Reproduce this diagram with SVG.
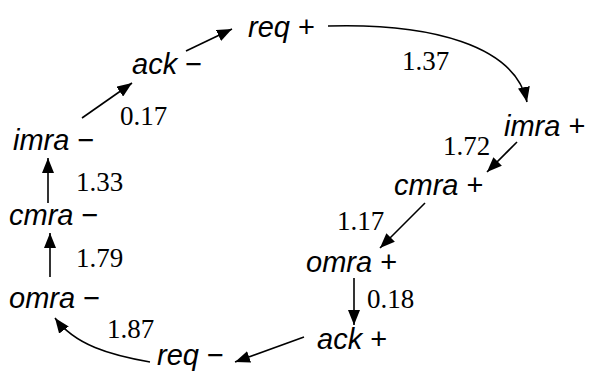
<svg xmlns="http://www.w3.org/2000/svg" width="590" height="372" viewBox="0 0 590 372">
  <style>
    .node { font-family: "Liberation Sans", Arial, sans-serif; font-size: 29px; fill: #000; }
    .node .v { font-style: italic; }
    .rate { font-family: "Liberation Serif", "Times New Roman", serif; font-size: 27px; fill: #000; }
    .edge { fill: none; stroke: #000; stroke-width: 1.6; marker-end: url(#head); }
  </style>
  <defs>
    <marker id="head" markerUnits="userSpaceOnUse" markerWidth="16" markerHeight="12" refX="15" refY="6" orient="auto">
      <path d="M0,0 L15,6 L0,12 z" fill="#000"/>
    </marker>
  </defs>
  <rect width="590" height="372" fill="#fff"/>

  <!-- signal transitions -->
  <g id="req-plus"><text class="node" x="248" y="37"><tspan class="v">req</tspan> +</text></g>
  <g id="imra-plus"><text class="node" x="504" y="136"><tspan class="v">imra</tspan> +</text></g>
  <g id="cmra-plus"><text class="node" x="394" y="195"><tspan class="v">cmra</tspan> +</text></g>
  <g id="omra-plus"><text class="node" x="306" y="272"><tspan class="v">omra</tspan> +</text></g>
  <g id="ack-plus"><text class="node" x="317" y="349"><tspan class="v">ack</tspan> +</text></g>
  <g id="req-minus"><text class="node" x="157" y="365"><tspan class="v">req</tspan> −</text></g>
  <g id="omra-minus"><text class="node" x="9" y="308"><tspan class="v">omra</tspan> −</text></g>
  <g id="cmra-minus"><text class="node" x="9" y="225"><tspan class="v">cmra</tspan> −</text></g>
  <g id="imra-minus"><text class="node" x="13" y="150"><tspan class="v">imra</tspan> −</text></g>
  <g id="ack-minus"><text class="node" x="132" y="74"><tspan class="v">ack</tspan> −</text></g>

  <!-- arcs with delays -->
  <g id="connectors">
    <path class="edge" d="M328,26 C430,23 515,45 527,102"/>
    <path class="edge" d="M517,142 L487,172"/>
    <path class="edge" d="M425,203 L380,248"/>
    <path class="edge" d="M354,278 L354,325"/>
    <path class="edge" d="M304,337 L235,362"/>
    <path class="edge" d="M150,362 C110,355 75,345 55,318"/>
    <path class="edge" d="M50,277 L50,233"/>
    <path class="edge" d="M48,203 L48,158"/>
    <path class="edge" d="M82,118 L132,83"/>
    <path class="edge" d="M186,51 L232,29"/>

    <text class="rate" x="402" y="70">1.37</text>
    <text class="rate" x="443" y="155">1.72</text>
    <text class="rate" x="337" y="230">1.17</text>
    <text class="rate" x="367" y="308">0.18</text>
    <text class="rate" x="107" y="338">1.87</text>
    <text class="rate" x="76" y="267">1.79</text>
    <text class="rate" x="76" y="191">1.33</text>
    <text class="rate" x="120" y="125">0.17</text>
  </g>
</svg>
